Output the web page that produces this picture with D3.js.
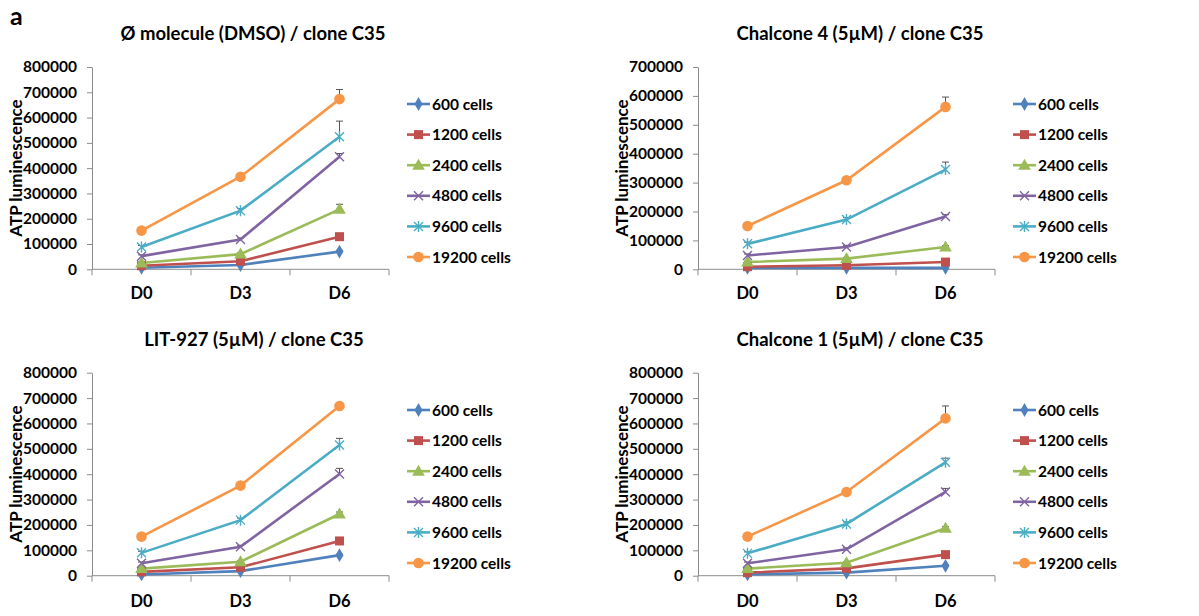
<!DOCTYPE html>
<html><head><meta charset="utf-8">
<script src="https://cdn.jsdelivr.net/npm/d3@7"></script>
<style>
html,body{margin:0;padding:0;background:#fff;}
text{font-family:Lato,"Open Sans",sans-serif;font-weight:bold;fill:#000;}
</style></head>
<body><svg id="chart" width="1199" height="616"></svg>
<script>
// ---------- DATA ----------
const categories = ["D0", "D3", "D6"];
const seriesNames = ["600 cells", "1200 cells", "2400 cells", "4800 cells", "9600 cells", "19200 cells"];
const panelTitles = ["Ø molecule (DMSO) / clone C35", "Chalcone 4 (5µM) / clone C35", "LIT-927 (5µM) / clone C35", "Chalcone 1 (5µM) / clone C35"];
const yMaxValues = [800000, 700000, 800000, 800000];
const yTickStep = 100000;
const yAxisLabel = "ATP luminescence";

// values per series [D0, D3, D6]
const dmsoValues = [
  [6000, 17000, 70000],
  [14000, 32000, 129000],
  [25000, 60000, 237000],
  [52000, 118000, 445000],
  [88000, 232000, 524000],
  [153000, 366000, 673000]
];
const dmsoErrors = [
  [2000, 3000, 5000],
  [3000, 4000, 6000],
  [3000, 5000, 20000],
  [5000, 6000, 13000],
  [6000, 8000, 62000],
  [6000, 6000, 38000]
];
const chalcone4Values = [
  [5000, 5000, 5000],
  [9000, 14000, 25000],
  [25000, 37000, 77000],
  [48000, 77000, 183000],
  [88000, 172000, 345000],
  [150000, 308000, 562000]
];
const chalcone4Errors = [
  [1000, 1000, 1000],
  [2000, 2000, 3000],
  [3000, 4000, 5000],
  [5000, 6000, 6000],
  [6000, 7000, 26000],
  [6000, 7000, 34000]
];
const lit927Values = [
  [5000, 18000, 81000],
  [15000, 33000, 137000],
  [28000, 55000, 243000],
  [49000, 114000, 401000],
  [90000, 219000, 515000],
  [154000, 355000, 669000]
];
const lit927Errors = [
  [1000, 2000, 4000],
  [2000, 3000, 5000],
  [3000, 4000, 8000],
  [5000, 6000, 22000],
  [6000, 8000, 26000],
  [6000, 5000, 5000]
];
const chalcone1Values = [
  [5000, 12000, 39000],
  [12000, 29000, 83000],
  [28000, 51000, 187000],
  [49000, 104000, 330000],
  [88000, 204000, 447000],
  [154000, 330000, 620000]
];
const chalcone1Errors = [
  [1000, 2000, 3000],
  [2000, 3000, 4000],
  [3000, 4000, 6000],
  [5000, 6000, 14000],
  [6000, 8000, 16000],
  [6000, 6000, 49000]
];
const panelValues = [dmsoValues, chalcone4Values, lit927Values, chalcone1Values];
const panelErrors = [dmsoErrors, chalcone4Errors, lit927Errors, chalcone1Errors];

// ---------- STYLE / LAYOUT ----------
const colors = ["#4F81BD", "#C0504D", "#9BBB59", "#8064A2", "#4BACC6", "#F79646"];
const markerTypes = ["diamond", "square", "triangle", "x", "star", "circle"];
const layout = [
  {ax: 92,  right: 389, top: 67,    bottom: 269.3, tx: 253, ty: 40,  lx: 16,  ly: 168, legX: 407,  legY: 104, xlY: 299},
  {ax: 698, right: 995, top: 67,    bottom: 269.3, tx: 860, ty: 40,  lx: 622, ly: 168, legX: 1013, legY: 104, xlY: 299},
  {ax: 92,  right: 389, top: 372.7, bottom: 575.7, tx: 254, ty: 346, lx: 16,  ly: 474, legX: 407,  legY: 410, xlY: 606.5},
  {ax: 698, right: 995, top: 372.7, bottom: 575.7, tx: 860, ty: 346, lx: 622, ly: 474, legX: 1013, legY: 410, xlY: 606.5}
];
const axisColor = "#8c8c8c";
const legSpacing = 30.6;

const svg = d3.select("#chart");

svg.append("text").attr("x", 10).attr("y", 25).attr("font-size", 25).text("a");

function drawMarker(g, type, x, y, color) {
  if (type === "diamond") {
    g.append("path").attr("d", d3.symbol(d3.symbolDiamond, 55)()).attr("transform", `translate(${x},${y})`).attr("fill", color);
  } else if (type === "square") {
    g.append("rect").attr("x", x - 4.5).attr("y", y - 4.5).attr("width", 9).attr("height", 9).attr("fill", color);
  } else if (type === "triangle") {
    g.append("path").attr("d", d3.symbol(d3.symbolTriangle, 70)()).attr("transform", `translate(${x},${y + 0.8})`).attr("fill", color);
  } else if (type === "x") {
    const s = 4.5;
    g.append("path").attr("d", `M${x - s},${y - s}L${x + s},${y + s}M${x - s},${y + s}L${x + s},${y - s}`)
      .attr("stroke", color).attr("stroke-width", 1.4).attr("fill", "none");
  } else if (type === "star") {
    const s = 4.5;
    g.append("path").attr("d", `M${x - s},${y - s}L${x + s},${y + s}M${x - s},${y + s}L${x + s},${y - s}M${x},${y - s - 1}L${x},${y + s + 1}`)
      .attr("stroke", color).attr("stroke-width", 1.4).attr("fill", "none");
  } else if (type === "circle") {
    g.append("circle").attr("cx", x).attr("cy", y).attr("r", 5.3).attr("fill", color);
  }
}

panelTitles.forEach((title, p) => {
  const L = layout[p];
  const g = svg.append("g");
  const x = d3.scaleBand().domain(categories).range([L.ax, L.right]);
  const y = d3.scaleLinear().domain([0, yMaxValues[p]]).range([L.bottom, L.top]);

  // title
  g.append("text").attr("x", L.tx).attr("y", L.ty).attr("text-anchor", "middle").attr("font-size", 18.5).text(title);

  // y axis
  const yAxis = d3.axisLeft(y).tickValues(d3.range(0, yMaxValues[p] + 1, yTickStep))
    .tickFormat(d3.format("d")).tickSizeInner(5).tickSizeOuter(0).tickPadding(10);
  const ya = g.append("g").attr("transform", `translate(${L.ax},0)`).call(yAxis);
  ya.select(".domain").attr("stroke", axisColor).attr("stroke-width", 1);
  ya.selectAll(".tick line").attr("stroke", axisColor);
  ya.selectAll(".tick text").attr("font-size", 15.5).attr("fill", "#000").attr("font-family", "Lato").attr("font-weight", "bold");

  // x axis
  const xa = g.append("g").attr("transform", `translate(0,${L.bottom})`);
  xa.append("line").attr("x1", L.ax).attr("x2", L.right).attr("stroke", axisColor);
  const bounds = [L.ax].concat(categories.map(c => x(c) + x.bandwidth()));
  xa.selectAll("line.tk").data(bounds).enter().append("line").attr("class", "tk")
    .attr("x1", d => d).attr("x2", d => d).attr("y1", 0).attr("y2", 6).attr("stroke", axisColor);
  g.selectAll("text.xl").data(categories).enter().append("text").attr("class", "xl")
    .attr("x", d => x(d) + x.bandwidth() / 2).attr("y", L.xlY).attr("text-anchor", "middle")
    .attr("font-size", 16.5).text(d => d);

  // y label
  g.append("text").attr("transform", `translate(${L.lx + 5.5},${L.ly}) rotate(-90)`).attr("text-anchor", "middle")
    .attr("font-size", 17).text(yAxisLabel);

  const cx = d => x(d) + x.bandwidth() / 2;
  const vals = panelValues[p], errs = panelErrors[p];
  const line = d3.line().x((d, i) => cx(categories[i])).y(d => y(d));

  // error bars (plus direction)
  vals.forEach((s, si) => {
    s.forEach((v, i) => {
      const e = errs[si][i];
      const xx = cx(categories[i]);
      g.append("path").attr("d", `M${xx},${y(v)}V${y(v + e)}M${xx - 3.5},${y(v + e)}H${xx + 3.5}`)
        .attr("stroke", "#555").attr("stroke-width", 1).attr("fill", "none");
    });
  });
  // lines and markers
  vals.forEach((s, si) => {
    g.append("path").attr("d", line(s)).attr("stroke", colors[si]).attr("stroke-width", 2.6).attr("fill", "none");
  });
  vals.forEach((s, si) => {
    s.forEach((v, i) => drawMarker(g, markerTypes[si], cx(categories[i]), y(v), colors[si]));
  });

  // legend
  seriesNames.forEach((name, si) => {
    const ly = L.legY + si * legSpacing;
    g.append("line").attr("x1", L.legX).attr("x2", L.legX + 23).attr("y1", ly).attr("y2", ly)
      .attr("stroke", colors[si]).attr("stroke-width", 2.6);
    drawMarker(g, markerTypes[si], L.legX + 11.5, ly, colors[si]);
    g.append("text").attr("x", L.legX + 25).attr("y", ly + 5.5).attr("font-size", 15.5).text(name);
  });
});
</script></body></html>
